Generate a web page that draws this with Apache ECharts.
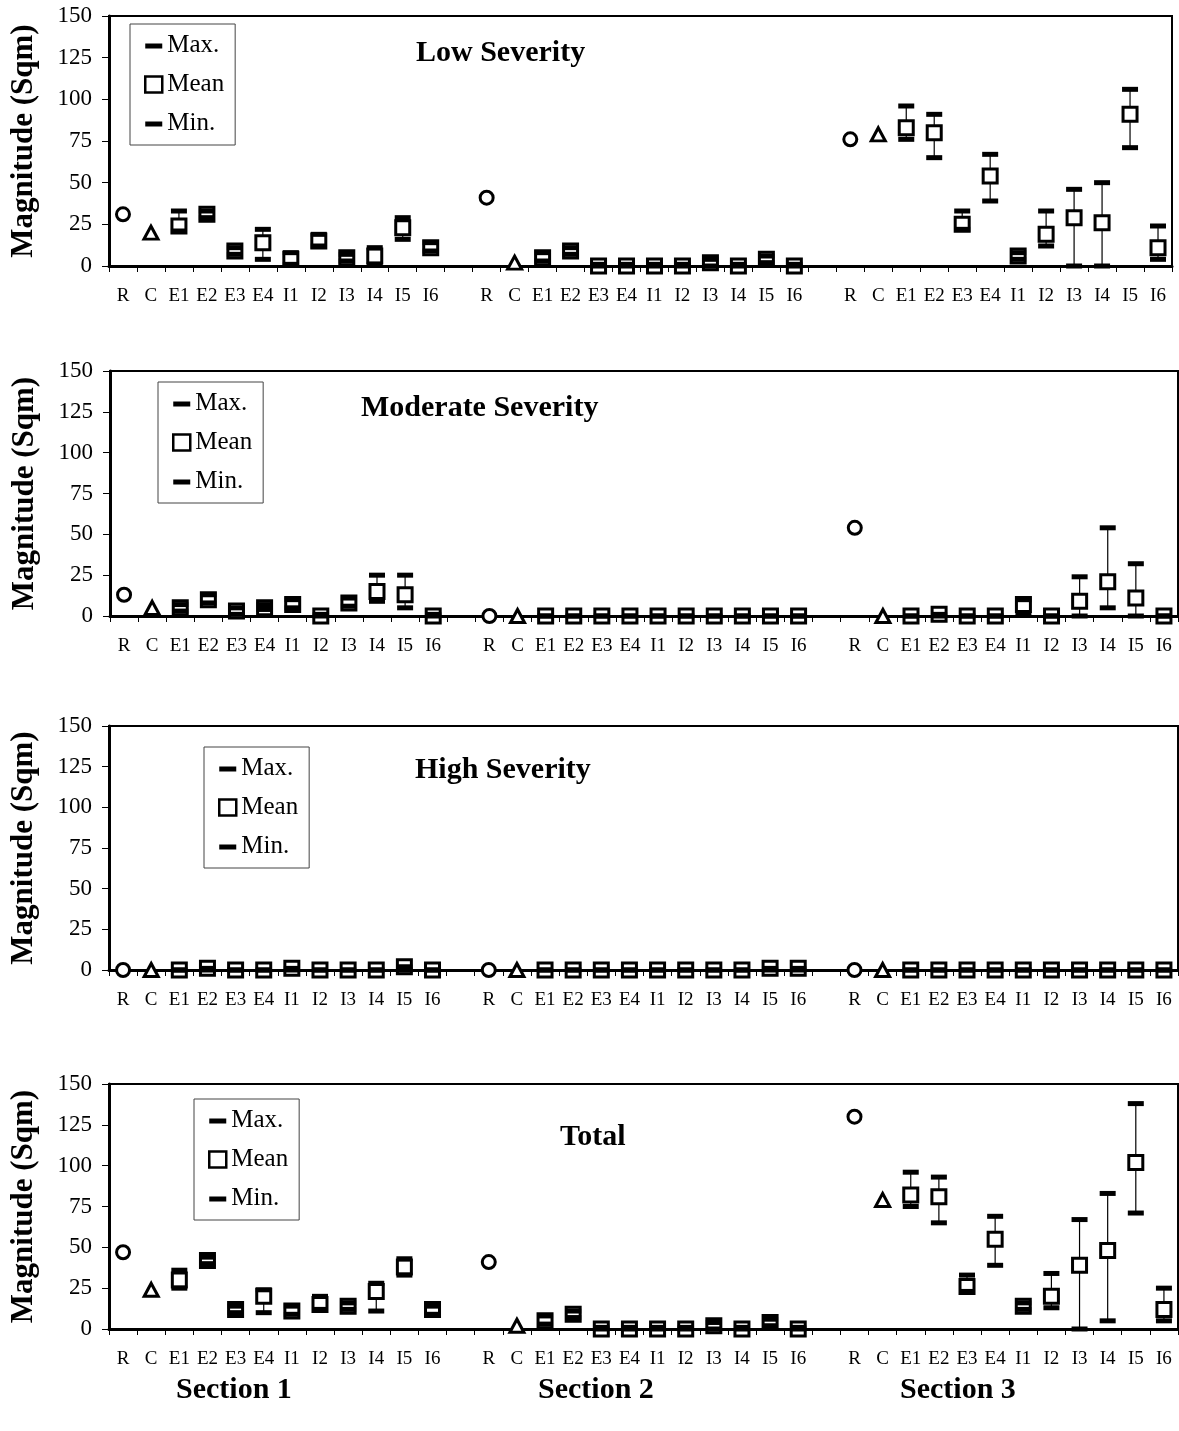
<!DOCTYPE html>
<html><head><meta charset="utf-8">
<script src="https://cdn.jsdelivr.net/npm/echarts@6/dist/echarts.min.js"></script>
<style>html,body{margin:0;padding:0;background:#fff}#c{width:1179px;height:1431px}</style>
</head><body><div id="c"></div>
<script>
// ---------- data ----------
const labels = ['R','C','E1','E2','E3','E4','I1','I2','I3','I4','I5','I6'];
const sectionNames = ['Section 1','Section 2','Section 3'];
const panelTitles = ['Low Severity','Moderate Severity','High Severity','Total'];
const yTicks = [0,25,50,75,100,125,150];

// Low severity (R, C per section; Mean/Max/Min for E1..I6 per section)
const lowR = [31, 41, 76];
const lowC = [20, 2, 79];
const lowMean = [[24,31,9,14,4,15,5,6,23,11],[5,9,0,0,0,0,2,0,4,0],[83,80,25,54,6,19,29,26,91,11]];
const lowMax  = [[33,33,11,22,8,19,7,11,29,14],[8,11,1,1,1,1,4,1,6,1],[96,91,33,67,8,33,46,50,106,24]];
const lowMin  = [[21,29,7,4,1,12,3,1,16,9],[3,7,0,0,0,0,0,0,2,0],[76,65,22,39,4,12,0,0,71,4]];

// Moderate severity
const modR = [13, 0, 54];
const modC = [5, 0, 0];
const modMean = [[5,10,3,5,7,0,8,15,13,0],[0,0,0,0,0,0,0,0,0,0],[0,1,0,0,7,0,9,21,11,0]];
const modMax  = [[7,13,5,7,10,1,11,25,25,1],[0,0,0,0,0,0,0,0,0,0],[0,1,0,0,10,0,24,54,32,0]];
const modMin  = [[3,8,1,4,5,0,6,9,5,0],[0,0,0,0,0,0,0,0,0,0],[0,0,0,0,1,0,0,5,0,0]];

// High severity
const highR = [0, 0, 0];
const highC = [0, 0, 0];
const highMean = [[0,1,0,0,1,0,0,0,2,0],[0,0,0,0,0,0,0,0,1,1],[0,0,0,0,0,0,0,0,0,0]];
const highMax  = [[0,1,0,0,1,0,0,0,2,0],[0,0,0,0,0,0,0,0,1,1],[0,0,0,0,0,0,0,0,0,0]];
const highMin  = [[0,0,0,0,0,0,0,0,0,0],[0,0,0,0,0,0,0,0,0,0],[0,0,0,0,0,0,0,0,0,0]];

// Total
const totR = [47, 41, 130];
const totC = [24, 2, 79];
const totMean = [[30,42,12,20,11,15,14,23,38,12],[5,9,0,0,0,0,2,0,4,0],[82,81,26,55,14,20,39,48,102,12]];
const totMax  = [[36,44,14,24,14,20,16,28,43,14],[8,11,1,1,1,1,4,1,6,1],[96,93,33,69,16,34,67,83,138,25]];
const totMin  = [[25,40,10,10,9,12,12,11,33,9],[3,7,0,0,0,0,0,0,2,0],[75,65,23,39,12,13,0,5,71,5]];

// ---------- layout ----------
const FONT = 'Liberation Serif';
const grids = [
  {left:108, top:16,   width:1064, height:250},
  {left:110, top:371,  width:1068, height:245},
  {left:108, top:726,  width:1070, height:244},
  {left:108, top:1084, width:1070, height:245}
];
const legendPos = [{left:130, top:24},{left:158, top:382},{left:204, top:747},{left:194, top:1099}];
const titlePos = [{left:416, top:38},{left:361, top:393},{left:415, top:755},{left:560, top:1122}];
const sectionPos = [{left:176, top:1375},{left:538, top:1375},{left:900, top:1375}];

const panels = [
  {R:lowR, C:lowC, mean:lowMean, max:lowMax, min:lowMin},
  {R:modR, C:modC, mean:modMean, max:modMax, min:modMin},
  {R:highR, C:highC, mean:highMean, max:highMax, min:highMin},
  {R:totR, C:totC, mean:totMean, max:totMax, min:totMin}
];

// category axis: 3 sections of 12 separated by a blank slot
const xCats = [];
for (let s = 0; s < 3; s++) {
  labels.forEach(l => xCats.push(l));
  if (s < 2) xCats.push('');
}
const idx = (s, k) => s * 13 + k;

const dashIcon = 'path://M0,0h0.01v0.01h-0.01zM0,6h17v5h-17zM16.99,15.99h0.01v0.01h-0.01z';

const xAxes = [], yAxes = [], series = [], legends = [], titles = [];
panels.forEach((p, g) => {
  xAxes.push({
    type:'category', gridIndex:g, data:xCats, boundaryGap:true,
    axisLine:{lineStyle:{color:'#000', width:3}},
    axisTick:{show:true, interval:0, length:6, lineStyle:{color:'#000', width:1}},
    axisLabel:{interval:0, margin:21, fontFamily:FONT, fontSize:19, color:'#000'},
    splitLine:{show:false}
  });
  yAxes.push({
    type:'value', gridIndex:g, min:yTicks[0], max:yTicks[yTicks.length-1], interval:yTicks[1]-yTicks[0],
    name:'Magnitude (Sqm)', nameLocation:'middle', nameGap:70, nameRotate:90,
    nameTextStyle:{fontFamily:FONT, fontWeight:'bold', fontSize:31, color:'#000'},
    axisLine:{show:true, lineStyle:{color:'#000', width:3}},
    axisTick:{show:true, length:7, lineStyle:{color:'#000', width:1}},
    axisLabel:{margin:17, fontFamily:FONT, fontSize:23, color:'#000'},
    splitLine:{show:false}
  });
  const rangeData = [], maxData = [], minData = [], meanData = [], rData = [], cData = [];
  for (let s = 0; s < 3; s++) {
    rData.push([idx(s,0), p.R[s]]);
    cData.push([idx(s,1), p.C[s]]);
    for (let j = 0; j < 10; j++) {
      const x = idx(s, j + 2);
      rangeData.push([x, p.min[s][j], p.max[s][j]]);
      maxData.push([x, p.max[s][j]]);
      minData.push([x, p.min[s][j]]);
      meanData.push([x, p.mean[s][j]]);
    }
  }
  series.push({
    type:'custom', name:'range', xAxisIndex:g, yAxisIndex:g, z:1, silent:true,
    encode:{x:0, y:[1,2]}, data:rangeData,
    renderItem:(params, api) => {
      const a = api.coord([api.value(0), api.value(1)]);
      const b = api.coord([api.value(0), api.value(2)]);
      return {type:'line', shape:{x1:a[0], y1:a[1], x2:b[0], y2:b[1]}, style:{stroke:'#000', lineWidth:1.2}};
    }
  });
  series.push({type:'scatter', name:'Mean', xAxisIndex:g, yAxisIndex:g, z:3, symbol:'rect', symbolSize:14,
    itemStyle:{color:'#fff', borderColor:'#000', borderWidth:3, opacity:1}, data:meanData});
  series.push({type:'scatter', name:'Max.', xAxisIndex:g, yAxisIndex:g, z:4, symbol:'rect', symbolSize:[16,5],
    itemStyle:{color:'#000', opacity:1}, data:maxData});
  series.push({type:'scatter', name:'Min.', xAxisIndex:g, yAxisIndex:g, z:4, symbol:'rect', symbolSize:[16,5],
    itemStyle:{color:'#000', opacity:1}, data:minData});
  series.push({type:'scatter', name:'R', xAxisIndex:g, yAxisIndex:g, z:3, symbol:'circle', symbolSize:13,
    itemStyle:{color:'#fff', borderColor:'#000', borderWidth:3, opacity:1}, data:rData});
  series.push({type:'scatter', name:'C', xAxisIndex:g, yAxisIndex:g, z:3, symbol:'triangle', symbolSize:[14,13],
    itemStyle:{color:'#fff', borderColor:'#000', borderWidth:3, opacity:1}, data:cData});

  legends.push({
    left:legendPos[g].left, top:legendPos[g].top, orient:'vertical',
    itemWidth:17, itemHeight:16, itemGap:14, padding:[9,11,9,14],
    borderColor:'#444', borderWidth:1, backgroundColor:'#fff', selectedMode:false,
    textStyle:{fontFamily:FONT, fontSize:25, color:'#000'},
    data:[
      {name:'Max.', icon:dashIcon, itemStyle:{color:'#000'}},
      {name:'Mean', icon:'rect', itemStyle:{color:'#fff', borderColor:'#000', borderWidth:2.5}},
      {name:'Min.', icon:dashIcon, itemStyle:{color:'#000'}}
    ]
  });
  titles.push({text:panelTitles[g], left:titlePos[g].left, top:titlePos[g].top, padding:0,
    textStyle:{fontFamily:FONT, fontWeight:'bold', fontSize:30, color:'#000'}});
});
sectionNames.forEach((t, i) => {
  titles.push({text:t, left:sectionPos[i].left, top:sectionPos[i].top, padding:0,
    textStyle:{fontFamily:FONT, fontWeight:'bold', fontSize:30, color:'#000'}});
});

const chart = echarts.init(document.getElementById('c'), null, {renderer:'canvas'});
chart.setOption({
  animation:false,
  backgroundColor:'#fff',
  title:titles,
  legend:legends,
  grid:grids.map(g => Object.assign({show:true, borderColor:'#000', borderWidth:2, backgroundColor:'transparent'}, g)),
  xAxis:xAxes,
  yAxis:yAxes,
  series:series
});
</script>
</body></html>
